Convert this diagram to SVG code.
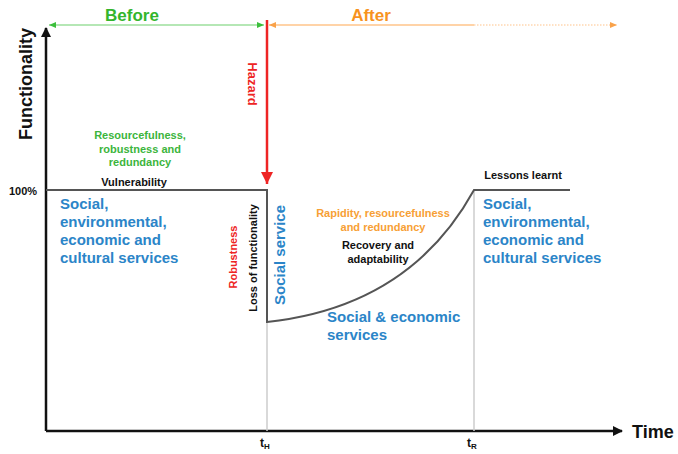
<svg xmlns="http://www.w3.org/2000/svg" width="678" height="454" viewBox="0 0 678 454">
<style>
text{font-family:"Liberation Sans",Arial,sans-serif;font-weight:bold}
.s{font-size:11px}
.b{font-size:15px;fill:#2b85c8}
.ax{font-size:18px;fill:#111}
</style>
<defs>
<marker id="ab" markerWidth="10" markerHeight="10" refX="9" refY="5" orient="auto" markerUnits="userSpaceOnUse"><path d="M0,0 L10,5 L0,10 Z" fill="#111"/></marker>
<marker id="ag" markerWidth="8" markerHeight="8" refX="7" refY="4" orient="auto-start-reverse" markerUnits="userSpaceOnUse"><path d="M0,1 L7,4 L0,7 Z" fill="#3cbf3c"/></marker>
<marker id="ao" markerWidth="8" markerHeight="8" refX="7" refY="4" orient="auto-start-reverse" markerUnits="userSpaceOnUse"><path d="M0,1 L7,4 L0,7 Z" fill="#f9a24a"/></marker>
<marker id="ar" markerWidth="14" markerHeight="14" refX="12" refY="7" orient="auto" markerUnits="userSpaceOnUse"><path d="M0,1 L12,7 L0,13 Z" fill="#ee2424"/></marker>
</defs>
<g id="connectors">
<line x1="46" y1="431" x2="46" y2="28" stroke="#111" stroke-width="2.5" marker-end="url(#ab)"/>
<line x1="46" y1="431" x2="622" y2="431" stroke="#111" stroke-width="2.5" marker-end="url(#ab)"/>
<line x1="49" y1="25" x2="264" y2="25" stroke="#6cd06c" stroke-width="1.2" marker-start="url(#ag)" marker-end="url(#ag)"/>
<line x1="269" y1="25" x2="474" y2="25" stroke="#ffc48a" stroke-width="1.5" marker-start="url(#ao)"/>
<line x1="474" y1="25" x2="617" y2="25" stroke="#ffc48a" stroke-width="1.2" stroke-dasharray="1.5,1.5" marker-end="url(#ao)"/>
<line x1="267" y1="20" x2="267" y2="184" stroke="#ee2424" stroke-width="2.5" marker-end="url(#ar)"/>
<line x1="267" y1="322" x2="267" y2="431" stroke="#ccc" stroke-width="1.5"/>
<line x1="474" y1="190" x2="474" y2="431" stroke="#ccc" stroke-width="1.5"/>
<path d="M46,190 H267 V322 C360,312 430,270 474,190 H570" fill="none" stroke="#555" stroke-width="2"/>
</g>
<g id="axis-labels">
<text class="ax" transform="translate(32,84) rotate(-90)" text-anchor="middle">Functionality</text>
<text class="ax" x="632" y="438">Time</text>
<text x="9" y="195" font-size="11" fill="#111">100%</text>
<text x="260" y="447" font-size="12" fill="#111">t<tspan font-size="8" dy="2">H</tspan></text>
<text x="467" y="447" font-size="12" fill="#111">t<tspan font-size="8" dy="2">R</tspan></text>
</g>
<g id="before"><text x="132" y="21" font-size="17" fill="#33b52c" text-anchor="middle">Before</text></g>
<g id="after"><text x="371" y="21" font-size="17" fill="#f7931e" text-anchor="middle">After</text></g>
<g id="hazard"><text transform="translate(248,84) rotate(90)" font-size="13" fill="#ee2424" text-anchor="middle">Hazard</text></g>
<g id="before-labels">
<text class="s" fill="#3cb53c" text-anchor="middle"><tspan x="140" y="139">Resourcefulness,</tspan><tspan x="140" y="153">robustness and</tspan><tspan x="140" y="166">redundancy</tspan></text>
<text class="s" x="134" y="186" fill="#111" text-anchor="middle">Vulnerability</text>
<text class="b"><tspan x="60" y="209">Social,</tspan><tspan x="60" y="227">environmental,</tspan><tspan x="60" y="245">economic and</tspan><tspan x="60" y="263">cultural services</tspan></text>
</g>
<g id="drop-labels">
<text class="s" transform="translate(237,257) rotate(-90)" fill="#ee2424" text-anchor="middle">Robustness</text>
<text class="s" transform="translate(257,258) rotate(-90)" fill="#111" text-anchor="middle">Loss of functionality</text>
<text class="b" transform="translate(285,255) rotate(-90)" text-anchor="middle">Social service</text>
</g>
<g id="recovery-labels">
<text class="s" fill="#f7a035" text-anchor="middle"><tspan x="383" y="217">Rapidity, resourcefulness</tspan><tspan x="383" y="231">and redundancy</tspan></text>
<text class="s" fill="#111" text-anchor="middle"><tspan x="378" y="249">Recovery and</tspan><tspan x="378" y="263">adaptability</tspan></text>
<text class="b"><tspan x="327" y="322">Social &amp; economic</tspan><tspan x="327" y="340">services</tspan></text>
</g>
<g id="after-labels">
<text class="s" x="523" y="179" fill="#111" text-anchor="middle">Lessons learnt</text>
<text class="b"><tspan x="483" y="209">Social,</tspan><tspan x="483" y="227">environmental,</tspan><tspan x="483" y="245">economic and</tspan><tspan x="483" y="263">cultural services</tspan></text>
</g>
</svg>
